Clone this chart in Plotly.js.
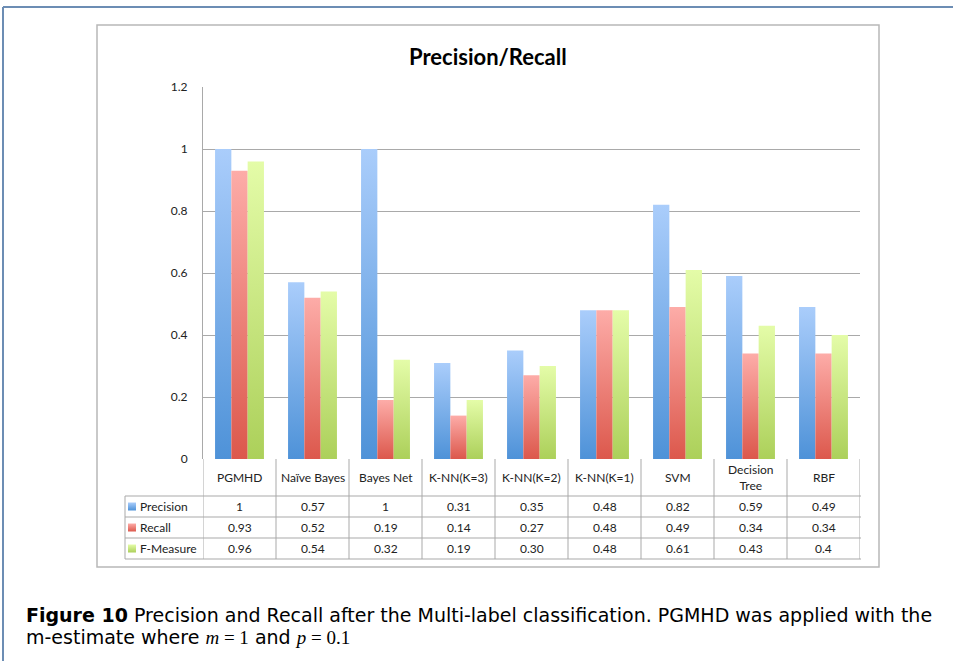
<!DOCTYPE html>
<html>
<head>
<meta charset="utf-8">
<script src="https://cdn.plot.ly/plotly-3.0.1.min.js"></script>
<style>
html,body{margin:0;padding:0;background:#fff;}
#chart{width:953px;height:661px;}
</style>
</head>
<body>
<div id="chart"></div>
<script>
// ---- data ----
const categories = ["PGMHD", "Naïve Bayes", "Bayes Net", "K-NN(K=3)", "K-NN(K=2)", "K-NN(K=1)", "SVM", "Decision<br>Tree", "RBF"];
const seriesNames = ["Precision", "Recall", "F-Measure"];
const precision = [1, 0.57, 1, 0.31, 0.35, 0.48, 0.82, 0.59, 0.49];
const recall = [0.93, 0.52, 0.19, 0.14, 0.27, 0.48, 0.49, 0.34, 0.34];
const fMeasure = [0.96, 0.54, 0.32, 0.19, 0.30, 0.48, 0.61, 0.43, 0.4];
const precisionLabels = ["1", "0.57", "1", "0.31", "0.35", "0.48", "0.82", "0.59", "0.49"];
const recallLabels = ["0.93", "0.52", "0.19", "0.14", "0.27", "0.48", "0.49", "0.34", "0.34"];
const fMeasureLabels = ["0.96", "0.54", "0.32", "0.19", "0.30", "0.48", "0.61", "0.43", "0.4"];
const yTickVals = [0, 0.2, 0.4, 0.6, 0.8, 1, 1.2];
const yTickText = ["0", "0.2", "0.4", "0.6", "0.8", "1", "1.2"];
const chartTitle = "Precision/Recall";
const captionLine1 = "<b>Figure 10</b> Precision and Recall after the Multi-label classification. PGMHD was applied with the";
const captionLine2 = "m-estimate where <span style='font-family:Liberation Serif'><i>m</i> = 1</span> and <span style='font-family:Liberation Serif'><i>p</i> = 0.1</span>";

// ---- styling ----
const W = 953, H = 661;
const PL = 203, PR = 860, PT = 87, PB = 459;
const grads = [["#aacdfb", "#4e92d8"], ["#fdaca8", "#dc584c"], ["#e4fca8", "#acd05a"]];
const mids = ["#7eb0ea", "#ee837b", "#c8e682"];
const FONT = "Lato, 'Open Sans', sans-serif";
const CAPFONT = "'DejaVu Sans', sans-serif";
const xs = categories.map((c, i) => i);

const pxp = p => (p - PL) / (PR - PL);
const pyp = p => (PB - p) / (PB - PT);

const vals = [precision, recall, fMeasure];
const labs = [precisionLabels, recallLabels, fMeasureLabels];

const traces = vals.map((v, k) => ({
  type: "bar", x: xs, y: v, name: seriesNames[k],
  marker: {color: mids[k], line: {width: 0}},
  showlegend: false, hoverinfo: "skip"
}));

const shapes = [];
const annotations = [];
const gridCol = "#a9a9a9";
const tableText = "#222";

// legend swatches (indices 0..2)
const rowTop = [496, 517, 538];
const rowBot = [517, 538, 559];
for (let k = 0; k < 3; k++) {
  const cy = (rowTop[k] + rowBot[k]) / 2;
  shapes.push({type: "rect", xref: "paper", yref: "paper", x0: pxp(128), x1: pxp(136), y0: pyp(cy + 4), y1: pyp(cy - 4), fillcolor: mids[k], line: {width: 0}, layer: "above"});
}
// outer figure frame
shapes.push({type: "line", xref: "paper", yref: "paper", x0: pxp(3), x1: pxp(953), y0: pyp(7), y1: pyp(7), line: {color: "#6c8db4", width: 2}});
shapes.push({type: "line", xref: "paper", yref: "paper", x0: pxp(3), x1: pxp(3), y0: pyp(7), y1: pyp(661), line: {color: "#6c8db4", width: 2}});
// inner chart box
shapes.push({type: "rect", xref: "paper", yref: "paper", x0: pxp(97), x1: pxp(879), y0: pyp(25), y1: pyp(567), line: {color: "#b8b8b8", width: 1.5}, fillcolor: "rgba(0,0,0,0)"});
// table vertical lines per category
for (let i = 0; i <= categories.length; i++) {
  shapes.push({type: "line", xref: "x", yref: "paper", x0: i - 0.5, x1: i - 0.5, y0: pyp(459), y1: pyp(559), line: {color: gridCol, width: 1}});
}
// label column lines
shapes.push({type: "line", xref: "paper", yref: "paper", x0: pxp(125), x1: pxp(125), y0: pyp(496), y1: pyp(559), line: {color: gridCol, width: 1}});
// horizontal table lines
[496, 517, 538, 559].forEach(y => {
  shapes.push({type: "line", xref: "paper", yref: "paper", x0: pxp(125), x1: pxp(PR + 1), y0: pyp(y), y1: pyp(y), line: {color: gridCol, width: 1}});
});

// header labels
categories.forEach((c, i) => {
  annotations.push({xref: "x", yref: "paper", x: i, y: pyp(477.5), text: c, showarrow: false, font: {family: FONT, size: 12, color: tableText}, xanchor: "center", yanchor: "middle", align: "center"});
});
// row labels and values
for (let k = 0; k < 3; k++) {
  const cy = (rowTop[k] + rowBot[k]) / 2;
  annotations.push({xref: "paper", yref: "paper", x: pxp(138), y: pyp(cy), text: seriesNames[k], showarrow: false, font: {family: FONT, size: 12, color: tableText}, xanchor: "left", yanchor: "middle"});
  labs[k].forEach((t, i) => {
    annotations.push({xref: "x", yref: "paper", x: i, y: pyp(cy), text: t, showarrow: false, font: {family: FONT, size: 12, color: tableText}, xanchor: "center", yanchor: "middle"});
  });
}
// title
annotations.push({xref: "paper", yref: "paper", x: pxp(488), y: pyp(56), text: "<b>" + chartTitle + "</b>", showarrow: false, font: {family: FONT, size: 22, color: "#000"}, xanchor: "center", yanchor: "middle"});
// caption
annotations.push({xref: "paper", yref: "paper", x: pxp(24), y: pyp(615), text: captionLine1, showarrow: false, font: {family: CAPFONT, size: 19, color: "#000"}, xanchor: "left", yanchor: "middle"});
annotations.push({xref: "paper", yref: "paper", x: pxp(24), y: pyp(637), text: captionLine2, showarrow: false, font: {family: CAPFONT, size: 19, color: "#000"}, xanchor: "left", yanchor: "middle"});

const layout = {
  width: W, height: H,
  margin: {l: PL, r: W - PR, t: PT, b: H - PB, pad: 0},
  paper_bgcolor: "#fff", plot_bgcolor: "#fff",
  barmode: "group", bargap: 0.33, bargroupgap: 0,
  xaxis: {range: [-0.5, categories.length - 0.5], showticklabels: false, showgrid: false, zeroline: false, showline: false, ticks: "", fixedrange: true},
  yaxis: {range: [0, 1.2], tickvals: yTickVals, ticktext: yTickText, showgrid: true, gridcolor: gridCol, gridwidth: 1, zeroline: false, showline: true, linecolor: gridCol, linewidth: 1, ticks: "", ticklabelstandoff: 12, tickfont: {family: FONT, size: 12, color: "#222"}, fixedrange: true},
  shapes: shapes,
  annotations: annotations,
  font: {family: FONT}
};

function applyGradients(gd) {
  const svg = gd.querySelector("svg.main-svg");
  const ns = "http://www.w3.org/2000/svg";
  let defs = svg.querySelector("defs");
  if (!defs) { defs = document.createElementNS(ns, "defs"); svg.insertBefore(defs, svg.firstChild); }
  grads.forEach((g, k) => {
    const lg = document.createElementNS(ns, "linearGradient");
    lg.setAttribute("id", "barGrad" + k);
    lg.setAttribute("x1", "0"); lg.setAttribute("y1", "0");
    lg.setAttribute("x2", "0"); lg.setAttribute("y2", "1");
    const s1 = document.createElementNS(ns, "stop");
    s1.setAttribute("offset", "0"); s1.setAttribute("stop-color", g[0]);
    const s2 = document.createElementNS(ns, "stop");
    s2.setAttribute("offset", "1"); s2.setAttribute("stop-color", g[1]);
    lg.appendChild(s1); lg.appendChild(s2);
    defs.appendChild(lg);
  });
  const tr = gd.querySelectorAll(".barlayer .trace");
  tr.forEach((t, k) => {
    t.querySelectorAll("path").forEach(p => { p.style.fill = "url(#barGrad" + k + ")"; });
  });
  for (let k = 0; k < 3; k++) {
    gd.querySelectorAll(".shapelayer path[data-index='" + k + "']").forEach(p => { p.style.fill = "url(#barGrad" + k + ")"; });
  }
}

Plotly.newPlot("chart", traces, layout, {staticPlot: true, displayModeBar: false}).then(applyGradients);
</script>
</body>
</html>
